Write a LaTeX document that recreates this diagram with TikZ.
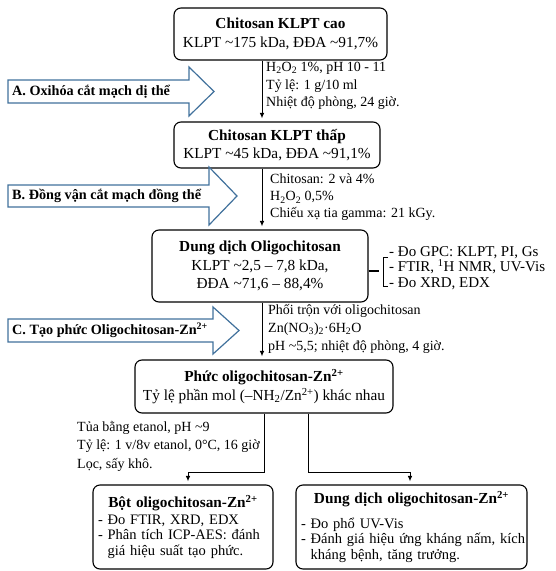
\documentclass[tikz,border=0pt]{standalone}
\usepackage{fontspec}
\setmainfont{Liberation Serif}
\usetikzlibrary{arrows.meta}
\definecolor{arrowblue}{HTML}{41719C}
\newcommand{\tld}{\textasciitilde}
\begin{document}
\begin{tikzpicture}[x=1pt,y=-1pt,
  box/.style={draw, line width=1.1pt, rounded corners=7pt, align=center, inner sep=0pt,
              font=\fontsize{15.3}{18.5}\selectfont},
  listbox/.style={draw, line width=1.1pt, rounded corners=7pt, align=left, inner sep=0pt,
              font=\fontsize{14.5}{15.5}\selectfont},
  ann/.style={anchor=north west, align=left, inner sep=0pt, execute at begin node=\strut},
  conn/.style={line width=0.9pt, shorten >=3pt, -{Latex[length=5.5pt,width=4.5pt]}},
  blockarrow/.style={draw=arrowblue, fill=white, line width=1.2pt, line join=miter},
  arrowlabel/.style={anchor=west, inner sep=0pt, font=\fontsize{14.2}{17}\selectfont\bfseries},
]
\useasboundingbox (0,0) rectangle (555,571);

% main boxes
\node[box, minimum width=213, minimum height=52] (b1) at (280.5,34)
  {\textbf{Chitosan KLPT cao}\\KLPT \tld175 kDa, ĐĐA \tld91,7\%};
\node[box, minimum width=206, minimum height=46] (b2) at (277,145)
  {\textbf{Chitosan KLPT thấp}\\KLPT \tld45 kDa, ĐĐA \tld91,1\%};
\node[box, minimum width=216, minimum height=72] (b3) at (260,266)
  {\textbf{Dung dịch Oligochitosan}\\KLPT \tld2,5 – 7,8 kDa,\\ĐĐA \tld71,6 – 88,4\%};
\node[box, minimum width=258, minimum height=53] (b4) at (264,386.5)
  {\textbf{Phức oligochitosan-Zn\textsuperscript{2+}}\\Tỷ lệ phần mol (–NH\textsubscript{2}/Zn\textsuperscript{2+}) khác nhau};
\node[listbox, minimum width=180, minimum height=84, text width=170] (b5) at (183,527)
  {{\centering\fontsize{15.3}{17}\selectfont\bfseries Bột oligochitosan-Zn\textsuperscript{2+}\par}\vspace{1pt}
   \mbox{- Đo FTIR, XRD, EDX}\\
   \mbox{- Phân tích ICP-AES: đánh}\\
   \mbox{\phantom{- }giá hiệu suất tạo phức.}};
\node[listbox, minimum width=231, minimum height=84, text width=221] (b6) at (411.5,527)
  {{\centering\fontsize{15.3}{17}\selectfont\bfseries Dung dịch oligochitosan-Zn\textsuperscript{2+}\par}\vspace{9pt}
   \mbox{- Đo phổ UV-Vis}\\
   \mbox{- Đánh giá hiệu ứng kháng nấm, kích}\\
   \mbox{\phantom{- }kháng bệnh, tăng trưởng.}};

% block arrows
\draw[blockarrow] (8,80) -- (189,80) -- (189,67) -- (214,91.5) -- (189,116) -- (189,103) -- (8,103) -- cycle;
\node[arrowlabel] (la) at (12,91.5) {A. Oxihóa cắt mạch dị thể};
\draw[blockarrow] (8,185) -- (209,185) -- (209,167) -- (237,196) -- (209,225) -- (209,207) -- (8,207) -- cycle;
\node[arrowlabel] (lb) at (12,196) {B. Đồng vận cắt mạch đồng thể};
\draw[blockarrow] (8,319) -- (213,319) -- (213,307) -- (239,330.5) -- (213,354) -- (213,342) -- (8,342) -- cycle;
\node[arrowlabel] (lc) at (12,330.5) {C. Tạo phức Oligochitosan-Zn\textsuperscript{2+}};

% vertical connectors
\coordinate (ax) at (262,0);
\draw[conn] (b1.south -| ax) -- (b2.north -| ax);
\draw[conn] (b2.south -| ax) -- (b3.north -| ax);
\draw[conn] (b3.south -| ax) -- (b4.north -| ax);

% branch connectors
\coordinate (jl1) at (264,472);
\coordinate (jl2) at (188,472);
\coordinate (jr1) at (308,472);
\coordinate (jr2) at (410,472);
\draw[conn] (b4.south -| jl1) -- (jl1) -- (jl2) -- (jl2 |- b5.north);
\draw[conn] (b4.south -| jr1) -- (jr1) -- (jr2) -- (jr2 |- b6.north);

% annotations
\node[ann, font=\fontsize{14}{17.5}\selectfont] (t1) at (266,62)
  {H\textsubscript{2}O\textsubscript{2} 1\%, pH 10 - 11\\Tỷ lệ: 1 g/10 ml\\Nhiệt độ phòng, 24 giờ.};
\node[ann, font=\fontsize{14}{17}\selectfont] (t2) at (270,174)
  {Chitosan: 2 và 4\%\\H\textsubscript{2}O\textsubscript{2} 0,5\%\\Chiếu xạ tia gamma: 21 kGy.};
\node[ann, font=\fontsize{14}{18}\selectfont] (t3) at (268,304)
  {Phối trộn với oligochitosan\\Zn(NO\textsubscript{3})\textsubscript{2}·6H\textsubscript{2}O\\pH \tld5,5; nhiệt độ phòng, 4 giờ.};
\node[ann, font=\fontsize{14}{18.5}\selectfont] (t4) at (77,421)
  {Tủa bằng etanol, pH \tld9\\Tỷ lệ: 1 v/8v etanol, 0°C, 16 giờ\\Lọc, sấy khô.};

% bracket with characterisation list
\coordinate (brk) at (379,271);
\draw[line width=1.8pt] (b3.east |- brk) -- (brk);
\draw[line width=0.9pt] (388,257) -- (383.5,257) -- (383.5,286) -- (388,286);
\node[ann, font=\fontsize{15}{15.5}\selectfont] (gpc) at (389,246)
  {- Đo GPC: KLPT, PI, Gs\\- FTIR, \textsuperscript{1}H NMR, UV-Vis\\- Đo XRD, EDX};
\end{tikzpicture}
\end{document}
